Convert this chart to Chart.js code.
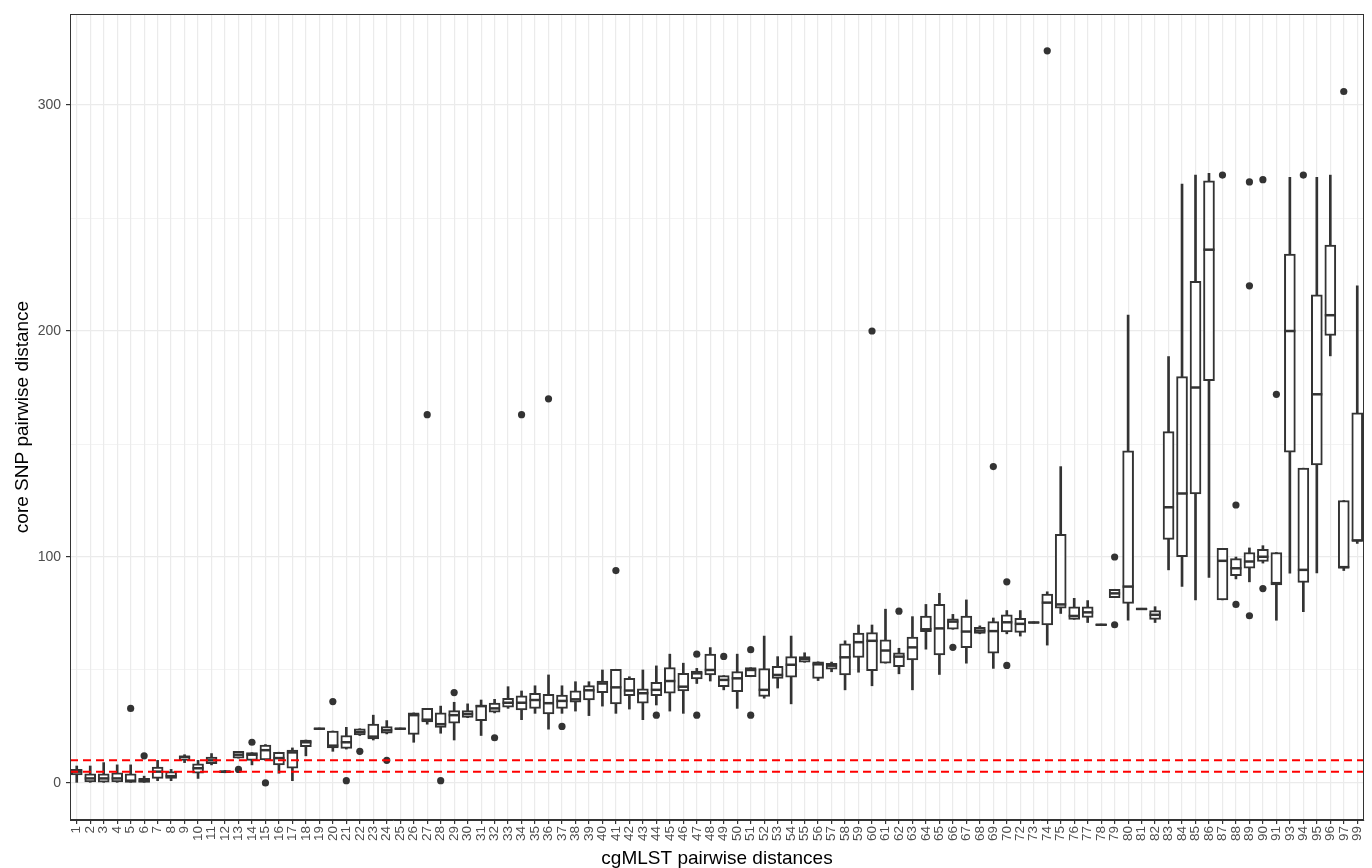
<!DOCTYPE html>
<html lang="en">
<head>
    <meta charset="UTF-8">
    <title>core SNP vs cgMLST pairwise distances</title>
    <script src="https://cdn.jsdelivr.net/npm/chart.js"></script>
    <style>
        body {
            margin: 0;
            background: #fff;
        }
        #wrap {
            width: 1372px;
            height: 868px;
        }
    </style>
</head>
<body>
    <div id="wrap">
        <canvas id="boxChart"></canvas>
    </div>

    <script>
        // cgMLST distance categories (71, 92 and 98 are absent)
        const labels = ['1','2','3','4','5','6','7','8','9','10','11','12','13','14','15','16','17','18','19','20',
            '21','22','23','24','25','26','27','28','29','30','31','32','33','34','35','36','37','38','39','40',
            '41','42','43','44','45','46','47','48','49','50','51','52','53','54','55','56','57','58','59','60',
            '61','62','63','64','65','66','67','68','69','70','72','73','74','75','76','77','78','79','80','81',
            '82','83','84','85','86','87','88','89','90','91','93','94','95','96','97','99'];

        // box stats
        const whiskerLow = [0,0,0,0,0,0,1,1,9,2,8,4.5,11,8,10,4.3,1,12,23.7,14,
            15,21,19,21.7,23.7,18,26,22,19,28.9,21,31,33,28,30.8,23.8,30.8,31.8,29.8,34,
            30.8,32.7,28,34.5,31.8,30.8,44,45.1,41.2,33,47,37.5,42,35,53.4,45.3,49.2,41.2,49,43,
            53,48.3,41.2,59.2,48,68,53,66,50.7,66,65,70.7,61,75,72.4,71,69.7,82,72,76.7,
            71,94.3,87,81,91,81,90.3,89,97.3,72,92.8,75.8,93,189,94,106];
        const q1 = [3.5,0.5,0.3,0.5,0,0,2,2,10,4.3,8.5,4.6,11,10,10.2,8,6.5,16,23.7,15.5,
            15.3,21.2,19.5,22,23.7,21.5,27,24.6,26.4,29,27.6,31.3,33.5,32.3,33,30.6,33,35.8,36.7,40,
            35,38.6,35.3,38.6,39.7,40.7,46,47.8,42.6,40.4,47,38.3,46.3,46.8,53.4,46.3,50.4,47.8,55.5,49.7,
            53,51.5,54.4,66.9,56.7,68,59.9,66.2,57.4,66.8,66.6,70.7,69.9,77.3,72.4,73.3,69.7,82,79.5,76.7,
            72.4,107.8,100.1,127.9,178,81,91.7,95,98,87.6,146.4,88.7,140.7,198,95,107];
        const median = [5,2,2,2,1,1,5,3,11.5,6.5,10,5,12.5,12.5,14.5,11,13.5,18,24,16.5,
            18,22.5,20.5,23.3,24,30,28,26,30,30.5,34,33,35.5,35.5,36.7,35.3,36.3,37,41,44,
            42.3,40.9,39.7,41.2,45.1,42.6,48.5,50,45.6,46.3,50,41.2,47.8,52.3,54.9,52.5,51.9,55.6,62.3,62.9,
            58.6,55.9,60,68,68.4,71.4,67,67.4,67.2,71.1,70.4,71,79.8,79,73.9,75.5,70,83.9,86.9,77,
            74.4,122,128.1,175,236,98.3,95,98,100.1,88.4,200,94.3,172,207,95.5,107.3];
        const q3 = [6,4,4,4.5,4,2,7,5,12,8.5,11.5,5.4,14,13.4,16.8,13.6,14.5,19,24.3,23,
            21,24,26,24.9,24.3,31,33,31,32,32,34.5,35.3,37.5,38.6,39.7,39.2,38.9,40.8,43.1,45.1,
            50.3,46.3,41.6,44.5,51,48.5,49.5,57,47.5,49.3,51,50.6,51.6,55.9,55.9,53.6,52.9,61.6,66.3,66.5,
            63.3,57.6,64.5,73.9,79,72.6,73.9,68.9,71.4,74.4,72.9,71.3,83.6,110,77.9,77.9,70.3,85.7,147,77.3,
            76.3,155.5,179.8,222,266.5,103.8,99.3,102,103.4,102,234,139.3,216,238,125,163.8];
        const whiskerHigh = [7.5,7.5,9,8,8,3,10,6,12.5,10,13,5.5,14,13.4,17,13.6,15.5,19,24.3,23,
            24.6,24,30,27.6,24.3,31,33,34,35.7,35,36.7,37,42.6,40.7,43,47.8,43,44.8,44.8,50,
            50.3,47,50,51.8,57,53,50.7,59.9,47.5,57,51,65,55.9,65,57.6,53.6,53.5,62.9,69.9,69.9,
            76.9,59.6,73.6,79,83.9,74.6,81,69.5,73,76.3,76.3,71.3,84.6,140,81.7,80.7,70.3,85.7,207,77.3,
            78,188.7,265,269,269.8,103.8,100,104,105,102,268,139.3,268,269,125,220];

        // outlying points
        const outlierLabels = ['5','6','13','14','15','20','21','22','24','27','28','29','32','34','36','37','41','44',
            '47','47','49','51','51','60','62','66','69','70','70','74','79','79','87','88','88','89','89','89',
            '90','90','91','94','97'];
        const outlierValues = [33,12,6,18,0,36,1,14,10,163,1,40,20,163,170,25,94,30,
            57,30,56,59,30,200,76,60,140,89,52,324,100,70,269,123,79,74,220,266,
            86,267,172,269,306];

        // red reference thresholds
        const thresholds = [5, 10];

        const dark = '#333333';
        const gridGrey = '#ebebeb';
        const fontFamily = '"Liberation Sans", Arial, sans-serif';

        // рамка панели как в theme_bw
        const panelBorder = {
            id: 'panelBorder',
            afterDraw(chart) {
                const { ctx, chartArea: a } = chart;
                ctx.save();
                ctx.strokeStyle = dark;
                ctx.lineWidth = 1;
                ctx.strokeRect(a.left + 0.5, a.top + 0.5, a.right - a.left - 1, a.bottom - a.top - 1);
                ctx.restore();
            }
        };

        const datasets = [
            {
                type: 'bar',
                data: labels.map((l, i) => [whiskerLow[i], whiskerHigh[i]]),
                backgroundColor: dark,
                borderWidth: 0,
                barThickness: 2,
                grouped: false,
                order: 5
            },
            {
                type: 'bar',
                data: labels.map((l, i) => [q1[i], q3[i]]),
                backgroundColor: '#ffffff',
                borderColor: dark,
                borderWidth: 2,
                borderSkipped: false,
                barThickness: 11,
                grouped: false,
                order: 4
            },
            {
                type: 'line',
                data: median,
                showLine: false,
                pointStyle: 'line',
                pointRadius: 5.5,
                pointBorderWidth: 2.5,
                pointBorderColor: dark,
                order: 3
            },
            {
                type: 'line',
                data: outlierLabels.map((l, i) => ({ x: l, y: outlierValues[i] })),
                showLine: false,
                pointRadius: 3.6,
                pointBorderWidth: 0,
                pointBackgroundColor: dark,
                order: 2
            }
        ];

        thresholds.forEach(t => {
            datasets.push({
                type: 'line',
                xAxisID: 'xr',
                data: [{ x: 0, y: t }, { x: 1, y: t }],
                borderColor: '#ff0000',
                borderWidth: 2,
                borderDash: [8, 5],
                pointRadius: 0,
                order: 0
            });
        });

        const ctx = document.getElementById('boxChart').getContext('2d');
        const boxChart = new Chart(ctx, {
            type: 'bar',
            data: { labels: labels, datasets: datasets },
            plugins: [panelBorder],
            options: {
                responsive: true,
                maintainAspectRatio: false,
                animation: false,
                devicePixelRatio: 1,
                layout: { padding: { top: 14, right: 6, left: 0, bottom: 0 } },
                plugins: {
                    legend: { display: false },
                    tooltip: { enabled: false }
                },
                scales: {
                    x: {
                        type: 'category',
                        offset: true,
                        grid: {
                            offset: false,
                            color: gridGrey,
                            lineWidth: 1.2,
                            tickColor: dark,
                            tickLength: 4
                        },
                        border: { color: dark, width: 1 },
                        ticks: {
                            autoSkip: false,
                            maxRotation: 90,
                            minRotation: 90,
                            padding: 2,
                            color: '#4d4d4d',
                            font: { family: fontFamily, size: 13.5 }
                        },
                        title: {
                            display: true,
                            text: 'cgMLST pairwise distances',
                            color: '#000',
                            font: { family: fontFamily, size: 19, lineHeight: 1 },
                            padding: 0
                        },
                        afterFit(scale) {
                            scale.height = 48;
                            // без лишних отступов под повёрнутые подписи
                            scale.paddingLeft = 0;
                            scale.paddingRight = 0;
                        }
                    },
                    xr: {
                        type: 'linear',
                        display: false,
                        offset: false,
                        grid: { offset: false },
                        min: 0,
                        max: 1
                    },
                    y: {
                        type: 'linear',
                        min: -16.4,
                        max: 340.3,
                        grid: {
                            color: gridGrey,
                            lineWidth: c => (c.tick && c.tick.value % 100 === 0) ? 1.2 : 0.6,
                            tickColor: c => (c.tick && c.tick.value % 100 === 0) ? dark : 'rgba(0,0,0,0)',
                            tickLength: 4
                        },
                        border: { color: dark, width: 1 },
                        ticks: {
                            stepSize: 50,
                            includeBounds: false,
                            padding: 5,
                            color: '#4d4d4d',
                            font: { family: fontFamily, size: 14 },
                            callback: v => (v % 100 === 0 ? v : '')
                        },
                        title: {
                            display: true,
                            text: 'core SNP pairwise distance',
                            color: '#000',
                            font: { family: fontFamily, size: 19, lineHeight: 1 },
                            padding: { top: 13.5, bottom: 0 }
                        },
                        afterFit(scale) { scale.width = 70; }
                    }
                }
            }
        });
    </script>
</body>
</html>
